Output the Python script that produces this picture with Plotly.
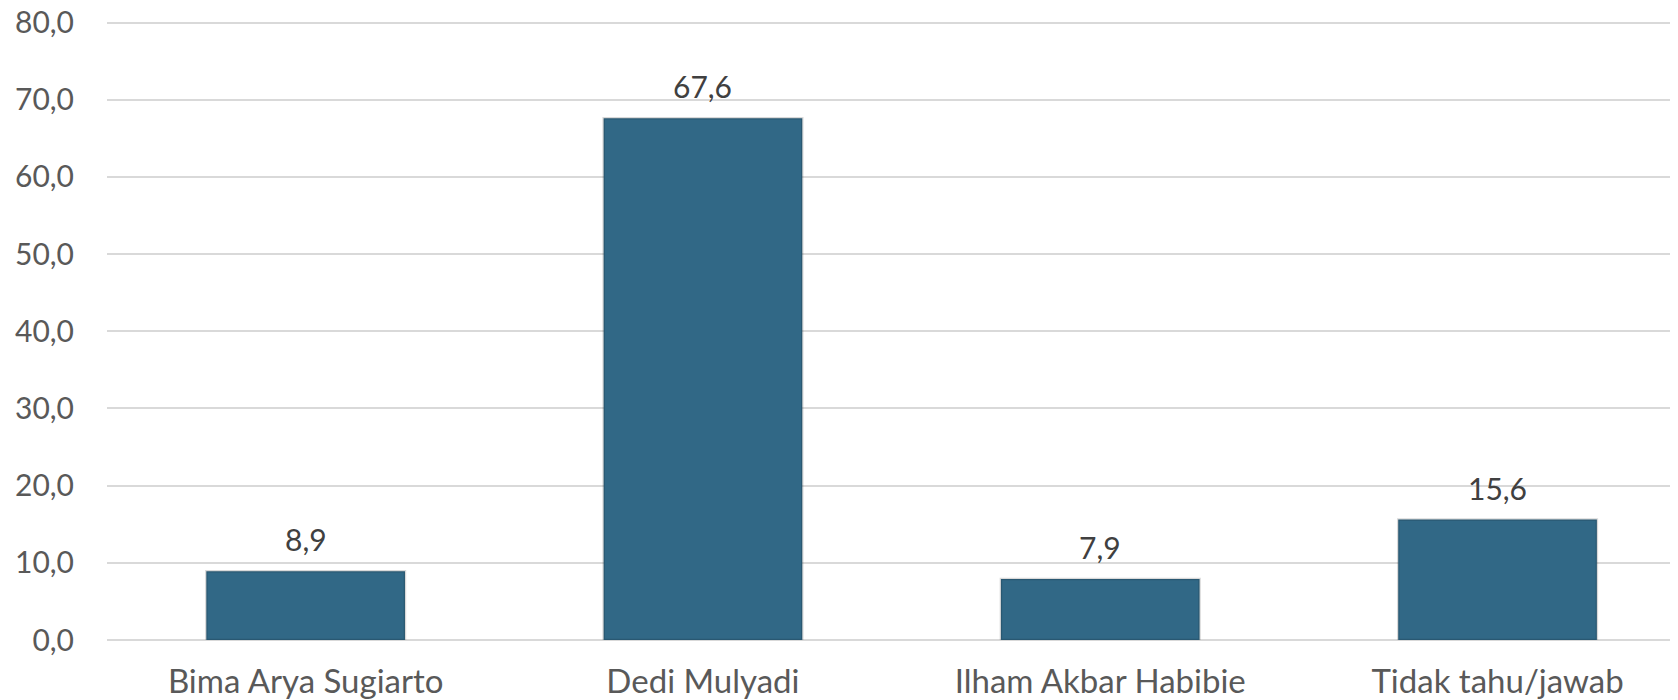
import plotly.graph_objects as go

categories = ["Bima Arya Sugiarto", "Dedi Mulyadi", "Ilham Akbar Habibie", "Tidak tahu/jawab"]
values = [8.9, 67.6, 7.9, 15.6]
y_ticks = [0, 10, 20, 30, 40, 50, 60, 70, 80]

# page body has an 8px default margin, so the figure is slightly smaller
W, H = 1670, 692
left = 99
cat_w = 397.3
x_max = (W - left) / cat_w - 0.5

fig = go.Figure()
fig.add_trace(go.Bar(
    x=list(range(len(categories))),
    y=values,
    marker=dict(color="#316886", line=dict(color="rgba(0,0,0,0.15)", width=2.5)),
    width=0.5,
    hoverinfo="skip",
))

for i, v in enumerate(values):
    fig.add_annotation(
        x=i, y=v, text=f"{v:.1f}".replace(".", ","),
        showarrow=False, yanchor="bottom", yshift=12,
        font=dict(family="Lato, sans-serif", size=30, color="#404040"),
    )

fig.update_layout(
    width=W, height=H,
    margin=dict(l=left, r=0, t=13, b=60),
    paper_bgcolor="white", plot_bgcolor="white",
    separators=",.",
    showlegend=False,
    font=dict(family="Lato, sans-serif", color="#595959"),
)
fig.update_xaxes(
    tickmode="array",
    tickvals=list(range(len(categories))),
    ticktext=categories,
    range=[-0.5, x_max],
    showgrid=False, zeroline=False, showline=False,
    ticks="outside", ticklen=12, tickcolor="white",
    tickfont=dict(size=33, color="#595959"),
    automargin=False,
    ticklabeloverflow="allow",
)
fig.update_yaxes(
    range=[0, 80.2],
    tickvals=y_ticks,
    tickformat=".1f",
    showgrid=True, gridcolor="#d9d9d9", gridwidth=1.5,
    zeroline=True, zerolinecolor="#d9d9d9", zerolinewidth=1.5,
    showline=False,
    ticks="outside", ticklen=26, tickcolor="white",
    tickfont=dict(size=30, color="#595959"),
    automargin=False,
    ticklabeloverflow="allow",
)

fig.write_html("out.html")
